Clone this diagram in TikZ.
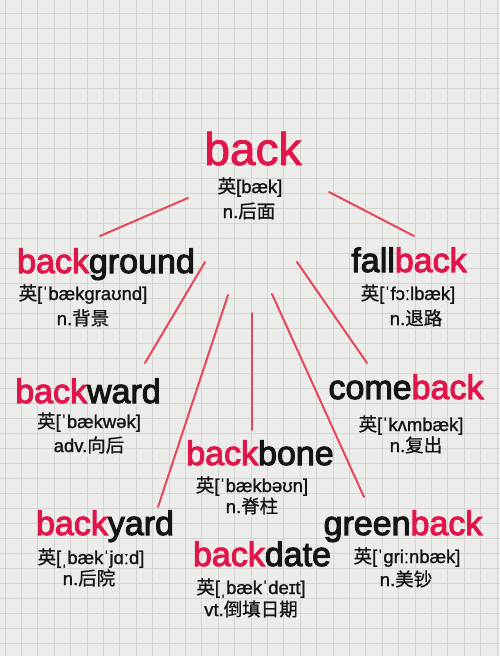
\documentclass[tikz,border=0pt]{standalone}
\usepackage{fontspec}
\setmainfont{Liberation Sans}[FakeBold=1.2]
\newfontfamily\cjk{Noto Sans CJK SC}[FakeBold=0.8]
\newfontfamily\headfont{Liberation Sans}[FakeBold=3]
\newfontfamily\titlefont{Liberation Sans}[FakeBold=1.8]
\definecolor{bgc}{HTML}{ECECEA}
\definecolor{gridc}{HTML}{D4D4D2}
\definecolor{bk}{HTML}{E0164A}
\definecolor{ink}{HTML}{141414}
\definecolor{linered}{HTML}{E5485A}
\newcommand\R[1]{\textcolor{bk}{#1}}
\newcommand\zh[1]{{\cjk #1}}
\tikzset{
  head/.style={anchor=base, inner sep=0pt, text=ink, font=\headfont\fontsize{34}{36}\selectfont},
  title/.style={anchor=base, inner sep=0pt, text=bk, font=\titlefont\fontsize{46}{48}\selectfont},
  sub/.style={anchor=base, inner sep=0pt, text=ink, font=\fontsize{18.5}{20}\selectfont},
  link/.style={draw=linered, line width=2pt, line cap=round},
  gridline/.style={draw=gridc, line width=0.8pt},
}
\begin{document}
\begin{tikzpicture}[x=1pt, y=-1pt]
\useasboundingbox (0,0) rectangle (500,656);
\fill[bgc] (0,0) rectangle (500,656);
\foreach \i in {0,...,30} \draw[gridline] ({5+16.4*\i},0) -- ({5+16.4*\i},656);
\foreach \j in {0,...,43} \draw[gridline] (0,{13.5+15*\j}) -- (500,{13.5+15*\j});

% title
\node[title] (back) at (253,165) {back};
\node[sub] (backp) at (250,193) {\zh{英}[bæk]};
\node[sub] (backm) at (249,218) {n.\zh{后面}};

% background
\node[head] (bg) at (106,273) {\R{back}ground};
\node[sub] (bgp) at (83,300) {\zh{英}[ˈbækɡraʊnd]};
\node[sub] (bgm) at (83,325) {n.\zh{背景}};

% fallback
\node[head] (fb) at (409,272) {fall\R{back}};
\node[sub] (fbp) at (408,300) {\zh{英}[ˈfɔːlbæk]};
\node[sub] (fbm) at (416,325) {n.\zh{退路}};

% backward
\node[head] (bw) at (88,403) {\R{back}ward};
\node[sub] (bwp) at (89,428) {\zh{英}[ˈbækwək]};
\node[sub] (bwm) at (89,452) {adv.\zh{向后}};

% comeback
\node[head] (cb) at (406,399) {come\R{back}};
\node[sub] (cbp) at (411,431) {\zh{英}[ˈkʌmbæk]};
\node[sub] (cbm) at (416,452) {n.\zh{复出}};

% backbone
\node[head] (bb) at (260,465) {\R{back}bone};
\node[sub] (bbp) at (252,492) {\zh{英}[ˈbækbəʊn]};
\node[sub] (bbm) at (252,513) {n.\zh{脊柱}};

% backyard
\node[head] (by) at (105,535) {\R{back}yard};
\node[sub] (byp) at (91,564) {\zh{英}[ˌbækˈjɑːd]};
\node[sub] (bym) at (89,585) {n.\zh{后院}};

% greenback
\node[head] (gb) at (403,535) {green\R{back}};
\node[sub] (gbp) at (407,563) {\zh{英}[ˈɡriːnbæk]};
\node[sub] (gbm) at (406,586) {n.\zh{美钞}};

% backdate
\node[head] (bd) at (262,566) {\R{back}date};
\node[sub] (bdp) at (251,594) {\zh{英}[ˌbækˈdeɪt]};
\node[sub] (bdm) at (251,616) {vt.\zh{倒填日期}};

% connector end points
\coordinate (c1a) at (188,198); \coordinate (c1b) at (100,236);
\coordinate (c2a) at (329,192); \coordinate (c2b) at (414,236);
\coordinate (c3a) at (205,262); \coordinate (c3b) at (145,363);
\coordinate (c4a) at (228,295); \coordinate (c4b) at (158,507);
\coordinate (c5a) at (252,313); \coordinate (c5b) at (252,430);
\coordinate (c6a) at (272,294); \coordinate (c6b) at (364,497);
\coordinate (c7a) at (297,262); \coordinate (c7b) at (367,363);

\draw[link] (c1a) -- (c1b);
\draw[link] (c2a) -- (c2b);
\draw[link] (c3a) -- (c3b);
\draw[link] (c4a) -- (c4b);
\draw[link] (c5a) -- (c5b);
\draw[link] (c6a) -- (c6b);
\draw[link] (c7a) -- (c7b);
\end{tikzpicture}
\end{document}
